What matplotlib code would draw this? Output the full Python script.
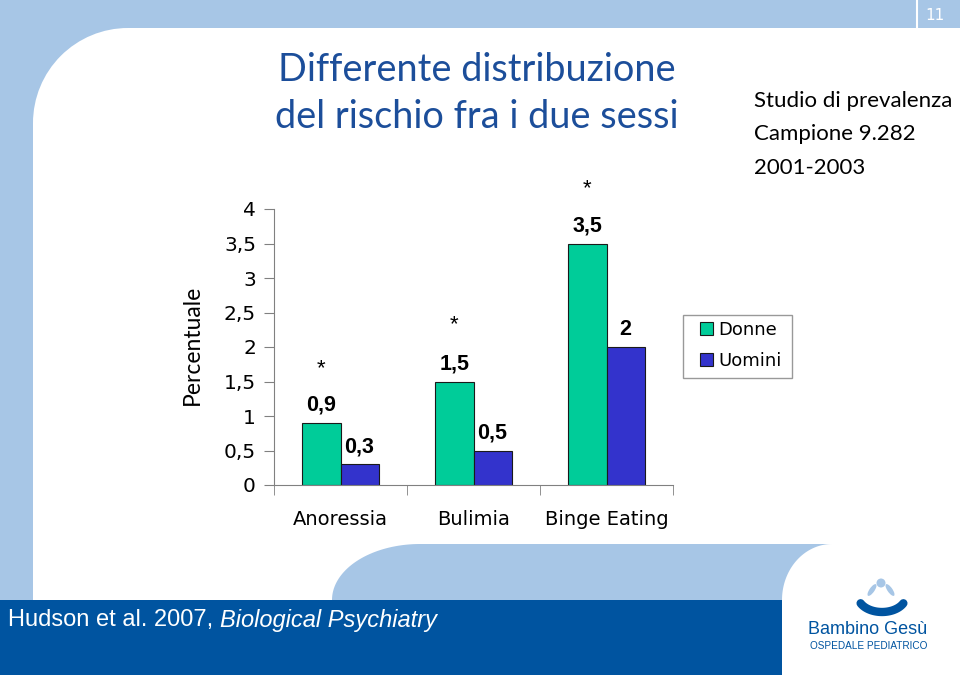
import numpy as np
import matplotlib
matplotlib.use("Agg")
import matplotlib.pyplot as plt
from matplotlib.patches import Rectangle, Circle, Polygon, Ellipse

# dati
categorie = ["Anoressia", "Bulimia", "Binge Eating"]
donne = [0.9, 1.5, 3.5]
uomini = [0.3, 0.5, 2.0]
etich_donne = ["0,9", "1,5", "3,5"]
etich_uomini = ["0,3", "0,5", "2"]
asterischi = [1.68, 2.32, 4.3]
yticks = [0, 0.5, 1, 1.5, 2, 2.5, 3, 3.5, 4]
ytick_lab = ["0", "0,5", "1", "1,5", "2", "2,5", "3", "3,5", "4"]

verde = "#00CC99"
blu = "#3333CC"
celeste = "#A7C6E6"
blu_scuro = "#0054A0"

fig = plt.figure(figsize=(9.6, 6.75), dpi=100)

# sfondo della slide (coordinate in pixel)
bg = fig.add_axes([0, 0, 1, 1])
bg.set_xlim(0, 960)
bg.set_ylim(675, 0)
bg.axis("off")

bg.add_patch(Rectangle((0, 0), 960, 28, color=celeste, lw=0))
bg.add_patch(Rectangle((0, 0), 33, 600, color=celeste, lw=0))
bg.add_patch(Rectangle((33, 28), 95, 95, color=celeste, lw=0))
bg.add_patch(Circle((128, 123), 95, color="white", lw=0))
bg.plot([917, 917], [0, 28], color="white", lw=1.5)
bg.text(935, 15, "11", color="white", fontsize=11, ha="center", va="center",
        family="DejaVu Sans")

# forma celeste in basso
t = np.linspace(0, np.pi / 2, 40)
arco_sx = [(420 - 88 * np.cos(a), 600 - 56 * np.sin(a)) for a in t]
arco_dx = [(832 - 50 * np.cos(a), 600 - 56 * np.sin(a)) for a in t[::-1]]
bg.add_patch(Polygon(arco_sx + arco_dx, closed=True, color=celeste, lw=0))
bg.add_patch(Rectangle((0, 600), 782, 75, color=blu_scuro, lw=0))

t1 = bg.text(8, 620, "Hudson et al. 2007, ", color="white", fontsize=17,
             va="center", family="Liberation Sans")
bg.annotate("Biological Psychiatry", xy=(1, 0.5), xycoords=t1, color="white",
            fontsize=17, va="center", style="italic", family="Liberation Sans")

# logo
bg.add_patch(Circle((881, 583), 4.5, color=celeste, lw=0))
bg.add_patch(Ellipse((872, 590), 5, 14, angle=35, color=celeste, lw=0))
bg.add_patch(Ellipse((890, 590), 5, 14, angle=-35, color=celeste, lw=0))
ta = np.linspace(0.15 * np.pi, 0.85 * np.pi, 40)
bg.plot(882 + 24 * np.cos(ta), 596 + 16 * np.sin(ta), color=blu_scuro,
        lw=6, solid_capstyle="round")
bg.text(868, 630, "Bambino Gesù", color=blu_scuro, fontsize=13, ha="center",
        va="center", family="Liberation Sans")
bg.text(869, 646, "OSPEDALE PEDIATRICO", color=blu_scuro, fontsize=7.2,
        ha="center", va="center", family="Liberation Sans")

# titolo e note
bg.text(477, 70, "Differente distribuzione", color="#1C4E9A", fontsize=27.3,
        ha="center", va="center", family="Lato")
bg.text(477, 117, "del rischio fra i due sessi", color="#1C4E9A", fontsize=27.3,
        ha="center", va="center", family="Lato")
for i, riga in enumerate(["Studio di prevalenza", "Campione 9.282", "2001-2003"]):
    bg.text(754, 101 + 33.5 * i, riga, color="black", fontsize=16, va="center",
            family="Lato")
bg.text(192, 345, "Percentuale", rotation=90, fontsize=16.5, ha="center",
        va="center", family="Lato")

# cornice legenda
bg.add_patch(Rectangle((683, 315), 109, 63, fill=False, edgecolor="#999999",
                       lw=1))

# grafico
ax = fig.add_axes([274 / 960, 1 - 485 / 675, 399 / 960, 276 / 675])
ax.patch.set_alpha(0)
x = np.arange(len(categorie))
w = 0.286
ax.bar(x - w / 2, donne, w, color=verde, edgecolor="#1a1a1a", lw=0.8,
       label="Donne")
ax.bar(x + w / 2, uomini, w, color=blu, edgecolor="#1a1a1a", lw=0.8,
       label="Uomini")

for xi, v, s in zip(x - w / 2, donne, etich_donne):
    ax.annotate(s, (xi, v), xytext=(0, 5), textcoords="offset points",
                ha="center", va="bottom", fontsize=15.5, fontweight="bold",
                family="Liberation Sans")
for xi, v, s in zip(x + w / 2, uomini, etich_uomini):
    ax.annotate(s, (xi, v), xytext=(0, 5), textcoords="offset points",
                ha="center", va="bottom", fontsize=15.5, fontweight="bold",
                family="Liberation Sans")
for xi, v in zip(x - w / 2, asterischi):
    ax.text(xi, v, "*", ha="center", va="center", fontsize=16,
            family="Liberation Sans", clip_on=False)

ax.set_xlim(-0.5, 2.5)
ax.set_ylim(0, 4)
ax.set_yticks(yticks)
ax.set_yticklabels(ytick_lab, fontsize=14.5, family="DejaVu Sans")
ax.set_xticks(x)
ax.set_xticklabels(categorie, fontsize=14, family="DejaVu Sans")
ax.tick_params(axis="x", length=0, pad=18)
ax.set_xticks([-0.5, 0.5, 1.5, 2.5], minor=True)
ax.tick_params(axis="x", which="minor", length=7, color="#808080", direction="out")
ax.tick_params(axis="y", length=7, color="#808080", direction="out", pad=6)
for s in ["top", "right"]:
    ax.spines[s].set_visible(False)
for s in ["left", "bottom"]:
    ax.spines[s].set_color("#808080")

leg = ax.legend(loc="upper left", bbox_to_anchor=(1.0677, 0.594),
                borderaxespad=0, prop={"family": "DejaVu Sans", "size": 13},
                frameon=False, handlelength=0.7, handleheight=0.7,
                handletextpad=0.3, borderpad=0, labelspacing=0.7)

fig.savefig("out.png", dpi=100)
